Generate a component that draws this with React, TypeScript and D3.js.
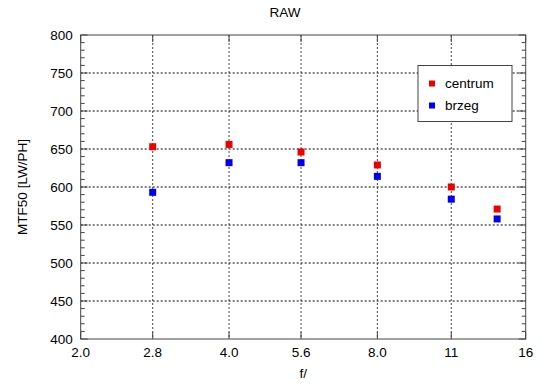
import * as React from "react";
import * as d3 from "d3";

const fStops = [2.8, 4.0, 5.6, 8.0, 11.3, 14];
const centrum = [653, 656, 646, 629, 600, 571];
const brzeg = [593, 632, 632, 614, 584, 558];

const xTickValues = [2.0, 2.8, 4.0, 5.6, 8.0, 11.3, 16];
const xTickLabels = ["2.0", "2.8", "4.0", "5.6", "8.0", "11", "16"];
const yTickValues = [400, 450, 500, 550, 600, 650, 700, 750, 800];

const series = [
  { name: "centrum", color: "#ee0000", values: centrum },
  { name: "brzeg", color: "#0000ee", values: brzeg },
];

const App = () => {
  const width = 550;
  const height = 389;
  const margin = { left: 80.7, right: 24.3, top: 35, bottom: 50 };
  const innerW = width - margin.left - margin.right;
  const innerH = height - margin.top - margin.bottom;

  const xScale = d3.scaleLog().base(2).domain([2, 16]).range([0, innerW]);
  const yScale = d3.scaleLinear().domain([400, 800]).range([innerH, 0]);
  const minorY = d3.range(400, 801, 10).filter((v) => v % 50 !== 0);

  const font = "Liberation Sans, Arial, sans-serif";
  const fs = 13.5;

  return (
    <svg
      width={width}
      height={height}
      style={{ position: "absolute", left: 0, top: 0, background: "#fff" }}
      fontFamily={font}
    >
      <text x={285} y={17} textAnchor="middle" fontSize={fs}>
        RAW
      </text>
      <g transform={`translate(${margin.left},${margin.top})`}>
        {/* grid */}
        {yTickValues.slice(1, -1).map((v) => (
          <line
            key={"gy" + v}
            x1={0}
            x2={innerW}
            y1={yScale(v)}
            y2={yScale(v)}
            stroke="#000"
            strokeDasharray="2,2"
            strokeWidth={1}
          />
        ))}
        {xTickValues.slice(1, -1).map((v) => (
          <line
            key={"gx" + v}
            x1={xScale(v)}
            x2={xScale(v)}
            y1={0}
            y2={innerH}
            stroke="#444"
            strokeDasharray="2,2"
            strokeWidth={1}
          />
        ))}
        {/* minor ticks */}
        {minorY.map((v) => (
          <g key={"my" + v}>
            <line x1={0} x2={4} y1={yScale(v)} y2={yScale(v)} stroke="#444" />
            <line x1={innerW - 4} x2={innerW} y1={yScale(v)} y2={yScale(v)} stroke="#444" />
          </g>
        ))}
        {yTickValues.map((v) => (
          <g key={"my2" + v}>
            <line x1={0} x2={7} y1={yScale(v)} y2={yScale(v)} stroke="#444" />
            <line x1={innerW - 7} x2={innerW} y1={yScale(v)} y2={yScale(v)} stroke="#444" />
          </g>
        ))}
        {xTickValues.map((v) => (
          <g key={"mx" + v}>
            <line x1={xScale(v)} x2={xScale(v)} y1={innerH} y2={innerH - 7} stroke="#444" />
            <line x1={xScale(v)} x2={xScale(v)} y1={0} y2={7} stroke="#444" />
          </g>
        ))}
        {/* frame */}
        <rect x={0} y={0} width={innerW} height={innerH} fill="none" stroke="#444" strokeWidth={1} />
        {/* tick labels */}
        {yTickValues.map((v) => (
          <text
            key={"ly" + v}
            x={-8}
            y={yScale(v)}
            dy="0.35em"
            textAnchor="end"
            fontSize={fs}
          >
            {v}
          </text>
        ))}
        {xTickValues.map((v, i) => (
          <text
            key={"lx" + v}
            x={xScale(v)}
            y={innerH + 18}
            textAnchor="middle"
            fontSize={fs}
          >
            {xTickLabels[i]}
          </text>
        ))}
        {/* points */}
        {series.map((s) =>
          s.values.map((v, i) => (
            <rect
              key={s.name + i}
              x={xScale(fStops[i]) - 3.5}
              y={yScale(v) - 3.5}
              width={7}
              height={7}
              fill={s.color}
            />
          ))
        )}
        {/* legend */}
        <g transform={`translate(${418 - margin.left},${65.5 - margin.top})`}>
          <rect x={0} y={0} width={94} height={56} fill="#fff" stroke="#444" />
          {series.map((s, i) => (
            <g key={"lg" + s.name} transform={`translate(0,${18 + i * 22})`}>
              <rect x={11} y={-3} width={6} height={6} fill={s.color} />
              <text x={27} y={0} dy="0.35em" fontSize={fs}>
                {s.name}
              </text>
            </g>
          ))}
        </g>
      </g>
      <text
        transform={`translate(27,${margin.top + innerH / 2}) rotate(-90)`}
        textAnchor="middle"
        fontSize={fs}
      >
        MTF50 [LW/PH]
      </text>
      <text x={margin.left + innerW / 2} y={378} textAnchor="middle" fontSize={fs}>
        f/
      </text>
    </svg>
  );
};

export default App;
